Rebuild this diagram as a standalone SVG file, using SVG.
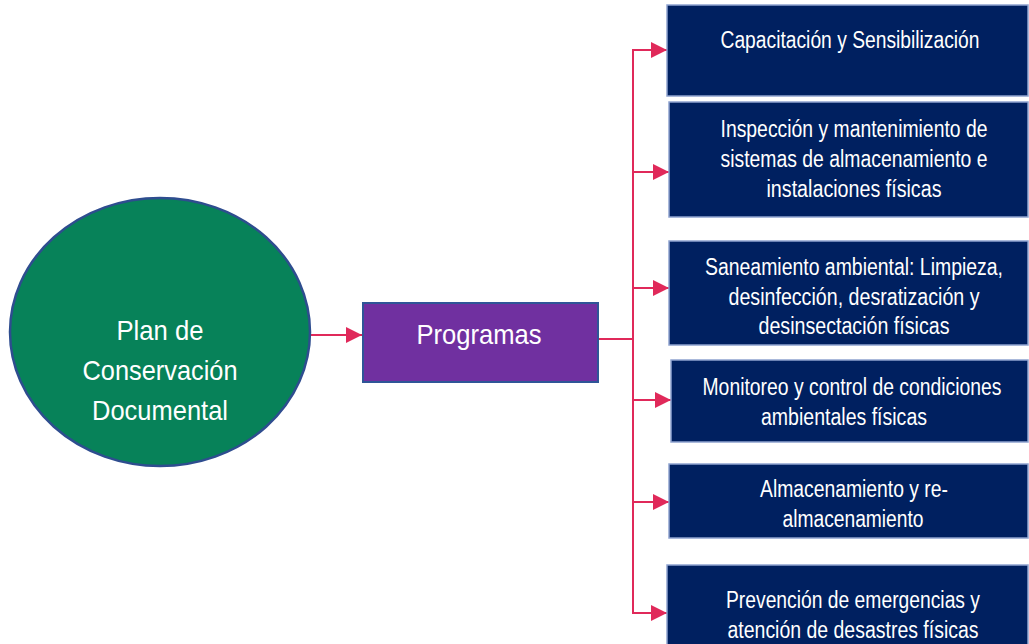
<svg xmlns="http://www.w3.org/2000/svg" width="1029" height="644" viewBox="0 0 1029 644">
<defs>
<style>
.t{font-family:"Liberation Sans",Arial,sans-serif;fill:#ffffff;text-anchor:middle}
.big{font-size:28px}
.sm{font-size:23px}
.box{fill:#002060;stroke:#8FA3CF;stroke-width:1.5}
.conn{fill:none;stroke:#E0295A;stroke-width:2}
</style>
<marker id="ah" viewBox="0 0 16 16" refX="16" refY="8" markerWidth="16" markerHeight="16" markerUnits="userSpaceOnUse" orient="auto">
<path d="M0,0 L16,8 L0,16 Z" fill="#E0295A"/>
</marker>
</defs>
<rect width="1029" height="644" fill="#ffffff"/>
<g id="connectors">
<line class="conn" x1="310" y1="335" x2="362" y2="335" marker-end="url(#ah)"/>
<polyline class="conn" points="598,339 633,339"/>
<line class="conn" x1="633" y1="50" x2="633" y2="613"/>
<line class="conn" x1="632" y1="50" x2="667" y2="50" marker-end="url(#ah)"/>
<line class="conn" x1="632" y1="172" x2="669" y2="172" marker-end="url(#ah)"/>
<line class="conn" x1="632" y1="288" x2="669" y2="288" marker-end="url(#ah)"/>
<line class="conn" x1="632" y1="400" x2="671" y2="400" marker-end="url(#ah)"/>
<line class="conn" x1="632" y1="502" x2="669" y2="502" marker-end="url(#ah)"/>
<line class="conn" x1="632" y1="613" x2="667" y2="613" marker-end="url(#ah)"/>
</g>
<g id="plan">
<ellipse cx="160" cy="332" rx="150" ry="134" fill="#078259" stroke="#2E4D8F" stroke-width="2.5"/>
<text class="t big" x="160" y="340" textLength="87" lengthAdjust="spacingAndGlyphs">Plan de</text>
<text class="t big" x="160" y="380" textLength="155" lengthAdjust="spacingAndGlyphs">Conservación</text>
<text class="t big" x="160" y="420" textLength="136" lengthAdjust="spacingAndGlyphs">Documental</text>
</g>
<g id="programas">
<rect x="363" y="303" width="235" height="79" fill="#7030A0" stroke="#2F5597" stroke-width="2"/>
<text class="t big" x="479" y="344" textLength="125" lengthAdjust="spacingAndGlyphs">Programas</text>
</g>
<g id="capacitacion">
<rect class="box" x="667" y="5" width="361" height="91"/>
<text class="t sm" x="850" y="48" textLength="259" lengthAdjust="spacingAndGlyphs">Capacitación y Sensibilización</text>
</g>
<g id="inspeccion">
<rect class="box" x="669" y="102" width="359" height="115"/>
<text class="t sm" x="854" y="137" textLength="267" lengthAdjust="spacingAndGlyphs">Inspección y mantenimiento de</text>
<text class="t sm" x="854" y="167" textLength="267" lengthAdjust="spacingAndGlyphs">sistemas de almacenamiento e</text>
<text class="t sm" x="854" y="197" textLength="175" lengthAdjust="spacingAndGlyphs">instalaciones físicas</text>
</g>
<g id="saneamiento">
<rect class="box" x="669" y="241" width="359" height="104"/>
<text class="t sm" x="854" y="275" textLength="298" lengthAdjust="spacingAndGlyphs">Saneamiento ambiental: Limpieza,</text>
<text class="t sm" x="854" y="305" textLength="251" lengthAdjust="spacingAndGlyphs">desinfección, desratización y</text>
<text class="t sm" x="854" y="334" textLength="191" lengthAdjust="spacingAndGlyphs">desinsectación físicas</text>
</g>
<g id="monitoreo">
<rect class="box" x="671" y="360" width="357" height="82"/>
<text class="t sm" x="852" y="395" textLength="299" lengthAdjust="spacingAndGlyphs">Monitoreo y control de condiciones</text>
<text class="t sm" x="844" y="425" textLength="166" lengthAdjust="spacingAndGlyphs">ambientales físicas</text>
</g>
<g id="almacenamiento">
<rect class="box" x="669" y="464" width="359" height="74"/>
<text class="t sm" x="854" y="497" textLength="188" lengthAdjust="spacingAndGlyphs">Almacenamiento y re-</text>
<text class="t sm" x="853" y="527" textLength="141" lengthAdjust="spacingAndGlyphs">almacenamiento</text>
</g>
<g id="prevencion">
<rect class="box" x="667" y="565" width="361" height="90"/>
<text class="t sm" x="853" y="608" textLength="254" lengthAdjust="spacingAndGlyphs">Prevención de emergencias y</text>
<text class="t sm" x="853" y="638" textLength="251" lengthAdjust="spacingAndGlyphs">atención de desastres físicas</text>
</g>
</svg>
